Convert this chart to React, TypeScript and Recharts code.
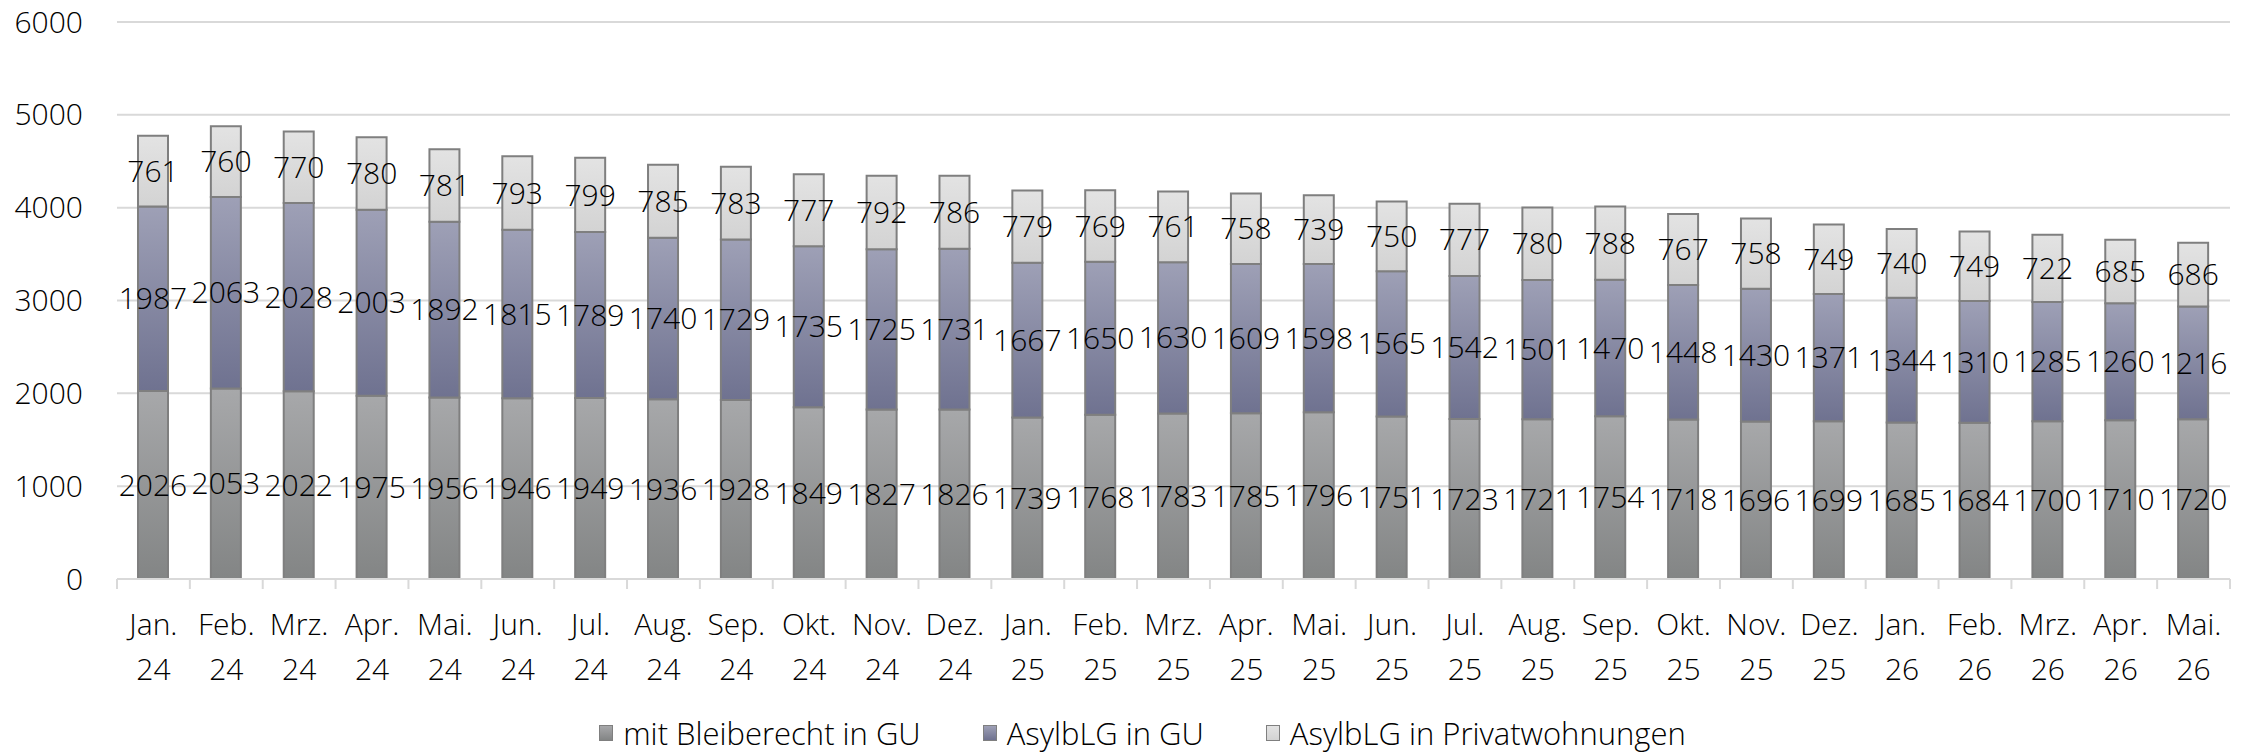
import { BarChart, Bar, XAxis, YAxis, CartesianGrid, Legend, LabelList } from "recharts";

const months = ["Jan.", "Feb.", "Mrz.", "Apr.", "Mai.", "Jun.", "Jul.", "Aug.", "Sep.", "Okt.", "Nov.", "Dez.",
  "Jan.", "Feb.", "Mrz.", "Apr.", "Mai.", "Jun.", "Jul.", "Aug.", "Sep.", "Okt.", "Nov.", "Dez.",
  "Jan.", "Feb.", "Mrz.", "Apr.", "Mai."];
const years = ["24", "24", "24", "24", "24", "24", "24", "24", "24", "24", "24", "24",
  "25", "25", "25", "25", "25", "25", "25", "25", "25", "25", "25", "25",
  "26", "26", "26", "26", "26"];

const bleiberecht = [2026, 2053, 2022, 1975, 1956, 1946, 1949, 1936, 1928, 1849, 1827, 1826,
  1739, 1768, 1783, 1785, 1796, 1751, 1723, 1721, 1754, 1718, 1696, 1699, 1685, 1684, 1700, 1710, 1720];
const asylbGU = [1987, 2063, 2028, 2003, 1892, 1815, 1789, 1740, 1729, 1735, 1725, 1731,
  1667, 1650, 1630, 1609, 1598, 1565, 1542, 1501, 1470, 1448, 1430, 1371, 1344, 1310, 1285, 1260, 1216];
const asylbPrivat = [761, 760, 770, 780, 781, 793, 799, 785, 783, 777, 792, 786,
  779, 769, 761, 758, 739, 750, 777, 780, 788, 767, 758, 749, 740, 749, 722, 685, 686];

const yTicks = [0, 1000, 2000, 3000, 4000, 5000, 6000];

const seriesNames = ["mit Bleiberecht in GU", "AsylbLG in GU", "AsylbLG in Privatwohnungen"];

const data = months.map((m, i) => ({
  name: `${m} ${years[i]}`,
  a: bleiberecht[i],
  b: asylbGU[i],
  c: asylbPrivat[i],
}));

const W = 2255;
const H = 755;
const LEFT = 117;
const RIGHT = 25;
const BAND = (W - LEFT - RIGHT) / data.length;
const GRID = "#d9d9d9";
const FW = 300;

const MonthTick = (props: any) => {
  const { x, y, payload, index } = props;
  const [m, yr] = String(payload.value).split(" ");
  return (
    <g>
      {index === 0 && (
        <line x1={x - BAND / 2} y1={y} x2={x - BAND / 2} y2={y + 10} stroke={GRID} strokeWidth={2} />
      )}
      <line x1={x + BAND / 2} y1={y} x2={x + BAND / 2} y2={y + 10} stroke={GRID} strokeWidth={2} />
      <text x={x} y={y + 56} textAnchor="middle" fill="#000" fontSize={30} fontWeight={FW}>
        {m}
      </text>
      <text x={x} y={y + 101} textAnchor="middle" fill="#000" fontSize={30} fontWeight={FW}>
        {yr}
      </text>
    </g>
  );
};

const swatches = [
  "linear-gradient(#a7a8aa, #838585)",
  "linear-gradient(#9ea0b6, #6f7290)",
  "linear-gradient(#e3e3e3, #d3d3d3)",
];

const LegendBox = () => (
  <div
    style={{
      display: "flex",
      justifyContent: "center",
      alignItems: "center",
      height: 40,
      paddingLeft: 30,
      gap: 62,
      fontSize: 31,
      fontWeight: FW,
      color: "#000",
    }}
  >
    {seriesNames.map((n, i) => (
      <div key={n} style={{ display: "flex", alignItems: "center", gap: 10 }}>
        <span
          style={{
            width: 12,
            height: 14,
            background: swatches[i],
            border: "1.5px solid #7f7f7f",
            display: "inline-block",
          }}
        />
        <span>{n}</span>
      </div>
    ))}
  </div>
);

export default function App() {
  return (
    <div
      style={{
        position: "absolute",
        left: 0,
        top: 0,
        width: W,
        height: H,
        background: "#fff",
        fontFamily: "'Open Sans', sans-serif",
      }}
    >
      <BarChart
        width={W}
        height={H}
        data={data}
        margin={{ top: 22, right: RIGHT, bottom: 36, left: 0 }}
      >
        <defs>
          <linearGradient id="gA" x1="0" y1="0" x2="0" y2="1">
            <stop offset="0%" stopColor="#a7a8aa" />
            <stop offset="100%" stopColor="#838585" />
          </linearGradient>
          <linearGradient id="gB" x1="0" y1="0" x2="0" y2="1">
            <stop offset="0%" stopColor="#9ea0b6" />
            <stop offset="100%" stopColor="#6f7290" />
          </linearGradient>
          <linearGradient id="gC" x1="0" y1="0" x2="0" y2="1">
            <stop offset="0%" stopColor="#e3e3e3" />
            <stop offset="100%" stopColor="#d3d3d3" />
          </linearGradient>
        </defs>
        <CartesianGrid vertical={false} stroke={GRID} strokeWidth={2} />
        <XAxis
          dataKey="name"
          interval={0}
          height={100}
          tickLine={false}
          tickSize={0}
          tickMargin={0}
          axisLine={{ stroke: GRID, strokeWidth: 2 }}
          tick={<MonthTick />}
        />
        <YAxis
          width={LEFT}
          domain={[0, 6000]}
          ticks={yTicks}
          axisLine={false}
          tickLine={false}
          tickSize={0}
          tickMargin={34}
          tick={{ fill: "#000", fontSize: 30, fontWeight: FW }}
        />
        <Legend
          verticalAlign="bottom"
          wrapperStyle={{ left: 0, width: W, bottom: 2 }}
          content={() => <LegendBox />}
        />
        <Bar dataKey="a" name={seriesNames[0]} stackId="s" fill="url(#gA)" stroke="#7f7f7f" strokeWidth={2} barSize={30} isAnimationActive={false}>
          <LabelList dataKey="a" position="center" fill="#000" fontSize={30} fontWeight={FW} />
        </Bar>
        <Bar dataKey="b" name={seriesNames[1]} stackId="s" fill="url(#gB)" stroke="#7f7f7f" strokeWidth={2} barSize={30} isAnimationActive={false}>
          <LabelList dataKey="b" position="center" fill="#000" fontSize={30} fontWeight={FW} />
        </Bar>
        <Bar dataKey="c" name={seriesNames[2]} stackId="s" fill="url(#gC)" stroke="#7f7f7f" strokeWidth={2} barSize={30} isAnimationActive={false}>
          <LabelList dataKey="c" position="center" fill="#000" fontSize={30} fontWeight={FW} />
        </Bar>
      </BarChart>
    </div>
  );
}
